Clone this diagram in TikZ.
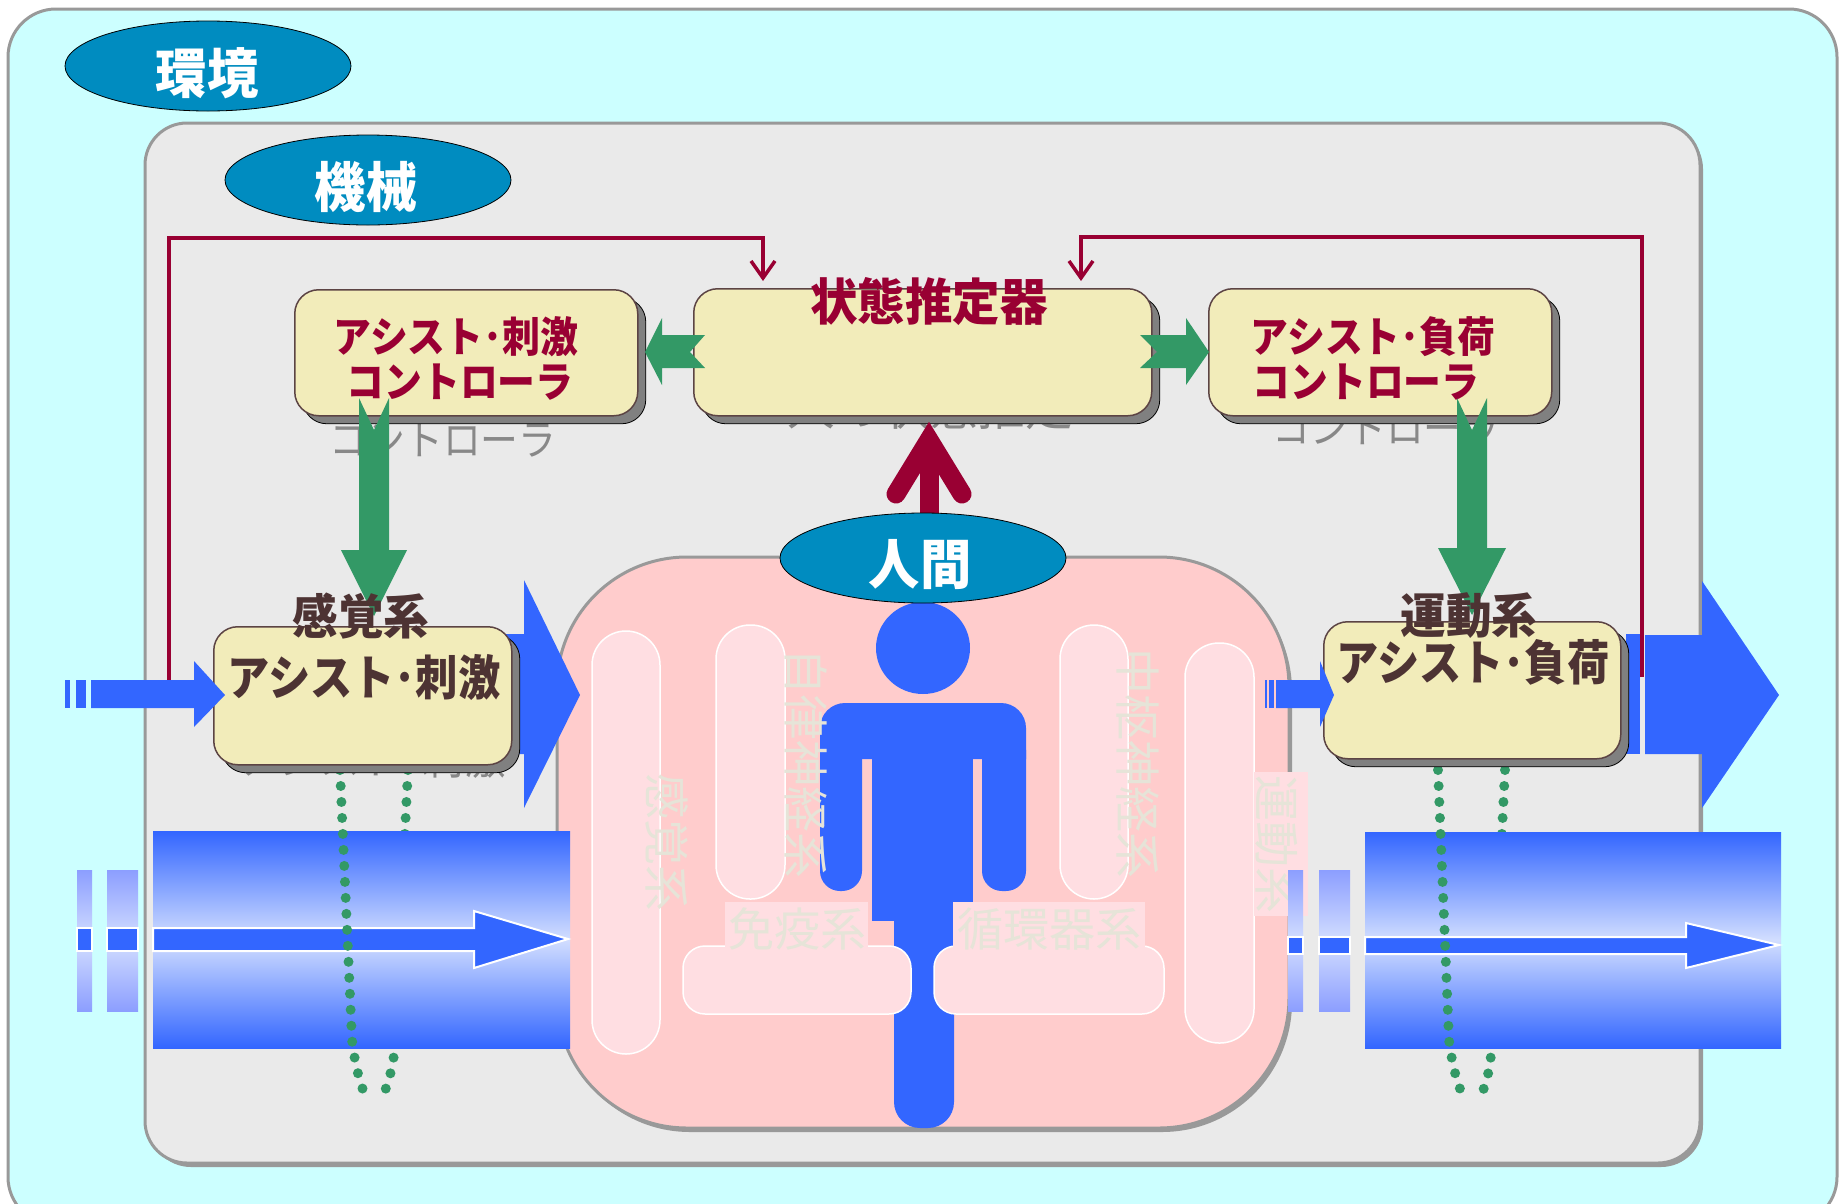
\documentclass[tikz,border=0pt]{standalone}
\usepackage{fontspec}
\usepackage{graphicx}
\newfontfamily\jp{Noto Sans CJK JP}
\usetikzlibrary{shapes.geometric,arrows.meta,shadows}

\definecolor{envfill}{HTML}{CCFFFF}
\definecolor{framegray}{HTML}{999999}
\definecolor{machfill}{HTML}{EAEAEA}
\definecolor{tagblue}{HTML}{008CC0}
\definecolor{boxfill}{HTML}{F2ECBA}
\definecolor{boxline}{HTML}{5C4444}
\definecolor{shadowgray}{HTML}{808080}
\definecolor{wine}{HTML}{990033}
\definecolor{leaf}{HTML}{339966}
\definecolor{royal}{HTML}{3366FF}
\definecolor{pale}{HTML}{D2DEFF}
\definecolor{midblue}{HTML}{8C9EFF}
\definecolor{cocoa}{HTML}{4D3333}
\definecolor{humanpink}{HTML}{FFCCCC}
\definecolor{pillpink}{HTML}{FFDEE2}
\definecolor{ghost}{HTML}{888888}
\definecolor{organtext}{HTML}{E6E4D8}

% horizontally condensed text
\newcommand\squeeze[2]{\scalebox{#1}[1]{#2}}

\tikzset{
  frame/.style={draw=framegray, line width=3pt},
  tag/.style={ellipse, draw=black, line width=0.8pt, fill=tagblue,
    minimum width=286pt, minimum height=90pt, inner sep=0pt},
  panel/.style={draw=boxline, line width=1.5pt, fill=boxfill, rounded corners=24pt,
    inner sep=0pt, anchor=north west,
    drop shadow={shadow xshift=8pt, shadow yshift=-8pt, fill=shadowgray,
      draw=black, line width=0.8pt, opacity=1}},
  bold/.style={font=\jp\bfseries\fontsize{#1pt}{#1pt}\selectfont, inner sep=0pt},
  plain/.style={font=\jp\fontsize{#1pt}{#1pt}\selectfont, inner sep=0pt},
  fb/.style={draw=wine, line width=3.5pt, -{Straight Barb[length=17pt,width=24pt]}},
  pill/.style={fill=pillpink, draw=white, line width=1.5pt},
  dots/.style={leaf, line width=10pt, line cap=round, dash pattern=on 0pt off 16pt},
  whitearrow/.style={fill=royal, draw=white, line width=2pt},
}

\begin{document}
\begin{tikzpicture}[x=1pt,y=-1pt]
\useasboundingbox (0,0) rectangle (1848,1203);
\clip (0,0) rectangle (1848,1203);

% environment and machine frames
\draw[frame, fill=envfill, rounded corners=48pt] (8,9) rectangle (1837,1225);
\fill[framegray, rounded corners=42pt] (149,127) rectangle (1703,1167);
\draw[frame, fill=machfill, rounded corners=42pt] (145,123) rectangle (1700,1163);

\node[tag] (env) at (208,66) {};
\node[bold=54, white] at (207,73) {\squeeze{0.95}{環境}};
\node[tag] (mach) at (368,180) {};
\node[bold=54, white] at (366,187) {\squeeze{0.95}{機械}};

% feedback lines into the state estimator
\coordinate (fbLs) at (169,680);
\coordinate (fbLe) at (763,281);
\coordinate (fbRs) at (1642,677);
\coordinate (fbRe) at (1081,281);
\draw[fb] (fbLs) -- (169,238) -- (763,238) -- (fbLe);
\draw[fb] (fbRs) -- (1642,237) -- (1081,237) -- (fbRe);

% texts lying behind the boxes
\node[plain=42, ghost] at (443,440) {\squeeze{0.9}{コントローラ}};
\node[plain=42, ghost] at (1386,428) {\squeeze{0.9}{コントローラ}};
\node[plain=50, ghost] at (930,406) {\squeeze{0.95}{人の状態推定}};
\node[plain=46, ghost] at (372,757) {\squeeze{0.9}{アシスト･刺激}};

% human
\fill[framegray, rounded corners=130pt] (560,561) rectangle (1292,1132);
\draw[frame, fill=humanpink, rounded corners=130pt] (557,557) rectangle (1289,1128);
\draw[pill, rounded corners=34pt] (592,631) rectangle (660,1054);
\draw[pill, rounded corners=34pt] (716,625) rectangle (785,899);
\draw[pill, rounded corners=34pt] (1060,625) rectangle (1128,899);
\draw[pill, rounded corners=34pt] (1185,643) rectangle (1254,1043);

% figure
\fill[royal] (923,648) ellipse [x radius=47pt, y radius=46pt];
\fill[royal] (820,759) [rounded corners=25pt] -- (820,703) -- (1026,703) [sharp corners] -- (1026,759) -- cycle;
\fill[royal, rounded corners=20pt] (820,730) rectangle (862,891);
\fill[royal, rounded corners=20pt] (982,730) rectangle (1026,891);
\fill[royal] (872,740) rectangle (973,921);
\fill[royal, rounded corners=26pt] (894,880) rectangle (954,1128);

\draw[pill, rounded corners=22pt] (683,946) rectangle (911,1014);
\draw[pill, rounded corners=22pt] (934,946) rectangle (1164,1014);
\fill[pillpink] (725,902) rectangle (868,956);
\fill[pillpink] (953,902) rectangle (1145,956);
\fill[pillpink] (1254,772) rectangle (1308,916);

\node[plain=46, organtext, rotate=-90] at (667,842) {感覚系};
\node[plain=46, organtext, rotate=-90] at (806,763) {自律神経系};
\node[plain=46, organtext, rotate=-90] at (1138,763) {中枢神経系};
\node[plain=46, organtext, rotate=-90] at (1277,844) {運動系};
\node[plain=46, organtext] at (797,929) {免疫系};
\node[plain=46, organtext] at (1049,929) {循環器系};

% dotted loops, far strands behind the bands
\draw[dots] (408,770) -- (394,1055) .. controls (391,1075) and (386,1092) .. (379,1102);
\draw[dots] (1505,770) -- (1491,1055) .. controls (1489,1075) and (1484,1092) .. (1477,1102);

% blue flow bands
\shade[top color=royal, bottom color=royal, middle color=pale] (153,831) rectangle (570,1048);
\shade[top color=midblue, bottom color=midblue, middle color=pale] (77,870) rectangle (92,1011);
\shade[top color=midblue, bottom color=midblue, middle color=pale] (107,870) rectangle (138,1011);
\draw[whitearrow] (77,928) rectangle (92,951);
\draw[whitearrow] (107,928) rectangle (138,951);
\draw[whitearrow] (153,928) -- (474,928) -- (474,911) -- (568,939) -- (474,968) -- (474,951) -- (153,951) -- cycle;

\shade[top color=royal, bottom color=royal, middle color=pale] (1365,832) rectangle (1781,1048);
\shade[top color=midblue, bottom color=midblue, middle color=pale] (1288,870) rectangle (1303,1011);
\shade[top color=midblue, bottom color=midblue, middle color=pale] (1319,870) rectangle (1350,1011);
\draw[whitearrow] (1288,937) rectangle (1303,954);
\draw[whitearrow] (1319,937) rectangle (1350,954);
\draw[whitearrow] (1365,937) -- (1686,937) -- (1686,923) -- (1779,945) -- (1686,968) -- (1686,954) -- (1365,954) -- cycle;

% near strands of the dotted loops
\draw[dots] (340,770) -- (352,1040) .. controls (355,1065) and (360,1085) .. (368,1102);
\draw[dots] (1438,770) -- (1449,1040) .. controls (1452,1065) and (1458,1088) .. (1466,1102);

% large output arrows
\fill[royal] (490,634) -- (524,634) -- (524,580) -- (580,695) -- (524,808) -- (524,754) -- (490,754) -- cycle;
\fill[royal] (1626,634) rectangle (1640,754);
\fill[royal] (1645,635) -- (1702,635) -- (1702,581) -- (1779,695) -- (1702,808) -- (1702,754) -- (1645,754) -- cycle;

% controller and system boxes
\node[panel, minimum width=343pt, minimum height=126pt] (ctlL) at (294,289) {};
\node[panel, minimum width=458pt, minimum height=127pt] (est) at (693,288) {};
\node[panel, minimum width=343pt, minimum height=127pt] (ctlR) at (1208,288) {};
\node[panel, minimum width=298pt, minimum height=138pt] (sense) at (213,626) {};
\node[panel, minimum width=297pt, minimum height=137pt] (motor) at (1323,621) {};

\node[bold=42, wine] at (456,337) {\squeeze{0.9}{アシスト･刺激}};
\node[bold=42, wine] at (460,382) {\squeeze{0.9}{コントローラ}};
\node[bold=50, wine] at (929,302) {\squeeze{0.95}{状態推定器}};
\node[bold=42, wine] at (1373,337) {\squeeze{0.9}{アシスト･負荷}};
\node[bold=42, wine] at (1366,382) {\squeeze{0.9}{コントローラ}};

% input arrows
\fill[royal] (65,680) rectangle (70,708);
\fill[royal] (76,680) rectangle (86,708);
\fill[royal] (91,680) -- (194,680) -- (194,661) -- (225,695) -- (194,727) -- (194,708) -- (91,708) -- cycle;
\fill[royal] (1265,680) rectangle (1267,708);
\fill[royal] (1269,680) rectangle (1274,708);
\fill[royal] (1276,680) -- (1320,680) -- (1320,661) -- (1334,695) -- (1320,727) -- (1320,708) -- (1276,708) -- cycle;

% green command arrows
\fill[leaf] (705,335) -- (662,335) -- (662,318) -- (645,352) -- (662,385) -- (662,368) -- (705,368) -- (690,352) -- cycle;
\fill[leaf] (1140,335) -- (1186,335) -- (1186,318) -- (1209,352) -- (1186,385) -- (1186,368) -- (1140,368) -- (1157,352) -- cycle;
\fill[leaf] (359,398) -- (374,430) -- (389,398) -- (389,550) -- (407,550) -- (374,616) -- (341,550) -- (359,550) -- cycle;
\fill[leaf] (1457,398) -- (1472,430) -- (1487,398) -- (1487,548) -- (1506,548) -- (1472,615) -- (1438,548) -- (1457,548) -- cycle;

\node[bold=48, cocoa] at (361,616) {\squeeze{0.95}{感覚系}};
\node[bold=48, cocoa] at (364,677) {\squeeze{0.88}{アシスト･刺激}};
\node[bold=48, cocoa] at (1469,616) {\squeeze{0.95}{運動系}};
\node[bold=48, cocoa] at (1473,662) {\squeeze{0.88}{アシスト･負荷}};

% state observation arrow
\draw[wine, line width=19pt] (929,518) -- (929,446);
\draw[wine, line width=19pt, line cap=round, line join=miter] (896,494) -- (929,440) -- (962,494);

\node[tag] (human) at (923,558) {};
\node[bold=54, white] at (920,565) {\squeeze{0.95}{人間}};
\end{tikzpicture}
\end{document}
